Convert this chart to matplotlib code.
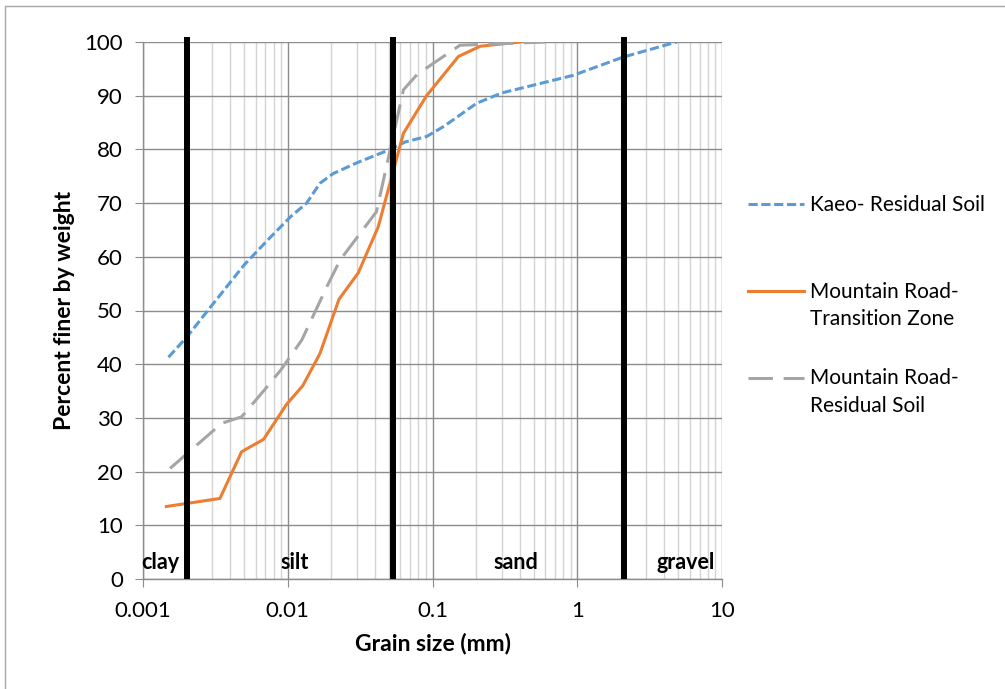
import numpy as np
import matplotlib.pyplot as plt
from matplotlib.ticker import LogLocator, FixedLocator
from matplotlib.legend_handler import HandlerLine2D

plt.rcParams['font.family'] = ['Lato', 'DejaVu Sans']

# Kaeo - residual soil
kaeoSize = [0.0015, 0.002, 0.003, 0.005, 0.0075, 0.0105, 0.0135, 0.0167, 0.0206,
            0.03, 0.051, 0.065, 0.091, 0.12, 0.202, 0.3, 0.94, 2.08, 4.86]
kaeoFiner = [41.3, 45.0, 51.0, 58.5, 63.5, 67.5, 70.0, 73.7, 75.5,
             77.5, 80.0, 81.4, 82.4, 84.3, 88.6, 90.5, 93.8, 97.2, 100.0]

# Mountain Road - transition zone
transSize = [0.00145, 0.0034, 0.0048, 0.0068, 0.0098, 0.0127, 0.0167, 0.0226,
             0.0307, 0.0422, 0.063, 0.091, 0.151, 0.213, 0.40]
transFiner = [13.5, 15.0, 23.7, 26.0, 32.5, 36.0, 42.0, 52.1,
              57.0, 65.6, 83.0, 90.0, 97.3, 99.2, 100.0]

# Mountain Road - residual soil
resSize = [0.00154, 0.0035, 0.0048, 0.0068, 0.009, 0.0125, 0.0186, 0.023,
           0.041, 0.063, 0.078, 0.101, 0.155, 0.6]
resFiner = [20.6, 29.0, 30.2, 35.0, 39.0, 44.5, 54.4, 59.4,
            68.4, 91.1, 93.9, 96.0, 99.4, 100.0]

# Soil class boundaries (mm) and labels
boundaries = [0.002, 0.053, 2.1]
classNames = ["clay", "silt", "sand", "gravel"]
classPos = [0.00131, 0.0112, 0.378, 5.6]

legendLabels = ["Kaeo- Residual Soil\n", "Mountain Road-\nTransition Zone",
                "Mountain Road-\nResidual Soil"]


# legend handle drawn next to the first text line (as Excel does)
class FirstLineHandler(HandlerLine2D):
    def __init__(self, shift, **kw):
        super().__init__(**kw)
        self.shift = shift

    def create_artists(self, legend, orig_handle, xdescent, ydescent,
                       width, height, fontsize, trans):
        return super().create_artists(legend, orig_handle, xdescent,
                                      ydescent - 2 * self.shift, width, height,
                                      fontsize, trans)


fig = plt.figure(figsize=(10.05, 6.89), dpi=100)
ax = fig.add_axes([143 / 1005, 1 - 579 / 689, 579 / 1005, 537 / 689])

l1, = ax.plot(kaeoSize, kaeoFiner, color="#5B9BD5", lw=2.2, dashes=(3, 1.2), zorder=3)
l2, = ax.plot(transSize, transFiner, color="#ED7D31", lw=2.2, zorder=3)
l3, = ax.plot(resSize, resFiner, color="#A5A5A5", lw=2.2, dashes=(8, 3.5), zorder=3)

for b in boundaries:
    ax.plot([b, b], [0, 101], color="black", lw=4.3, solid_capstyle="butt",
            clip_on=False, zorder=4)

for name, pos in zip(classNames, classPos):
    ax.text(pos, 3.0, name, ha="center", va="center", fontsize=15.5,
            fontweight="bold", zorder=5)

ax.set_xscale("log")
ax.set_xlim(0.001, 10)
ax.set_ylim(0, 100)
ax.set_yticks(np.arange(0, 101, 10))
ax.xaxis.set_major_locator(FixedLocator([0.001, 0.01, 0.1, 1, 10]))
ax.set_xticklabels(["0.001", "0.01", "0.1", "1", "10"])
ax.xaxis.set_minor_locator(LogLocator(base=10, subs=np.arange(2, 10)))
ax.xaxis.set_minor_formatter(plt.NullFormatter())

ax.grid(which="major", color="#8c8c8c", lw=1.0)
ax.grid(which="minor", axis="x", color="#d4d4d4", lw=1.0)
ax.set_axisbelow(True)

for s in ["top", "right"]:
    ax.spines[s].set_visible(False)
for s in ["left", "bottom"]:
    ax.spines[s].set_color("#8c8c8c")
    ax.spines[s].set_linewidth(1.0)

ax.tick_params(axis="both", which="major", direction="out", length=5.5,
               color="#8c8c8c", labelsize=16)
ax.tick_params(axis="x", which="major", pad=10)
ax.tick_params(axis="y", which="major", pad=9)
ax.tick_params(axis="x", which="minor", length=0)

ax.set_xlabel("Grain size (mm)", fontsize=16.5, fontweight="bold", labelpad=9)
ax.set_ylabel("Percent finer by weight", fontsize=16.5, fontweight="bold", labelpad=7)

shift = 0.5 * 1.45 * 15
leg = fig.legend([l1, l2, l3], legendLabels, loc="center left",
                 bbox_to_anchor=(0.7254, 0.557), frameon=False,
                 fontsize=15, handlelength=2.7, handletextpad=0.29, labelspacing=1.9,
                 handler_map={l1: FirstLineHandler(shift), l2: FirstLineHandler(shift),
                              l3: FirstLineHandler(shift)})
for t in leg.get_texts():
    t.set_linespacing(1.45)

# chart area border (only left and top edges fall inside the image)
fig.add_artist(plt.Rectangle((5 / 1005, -0.05), 1.2, 1 - 6 / 689 + 0.05,
                             transform=fig.transFigure, fill=False,
                             edgecolor="#a6a6a6", lw=1.0))

fig.savefig("out.png", dpi=100)
